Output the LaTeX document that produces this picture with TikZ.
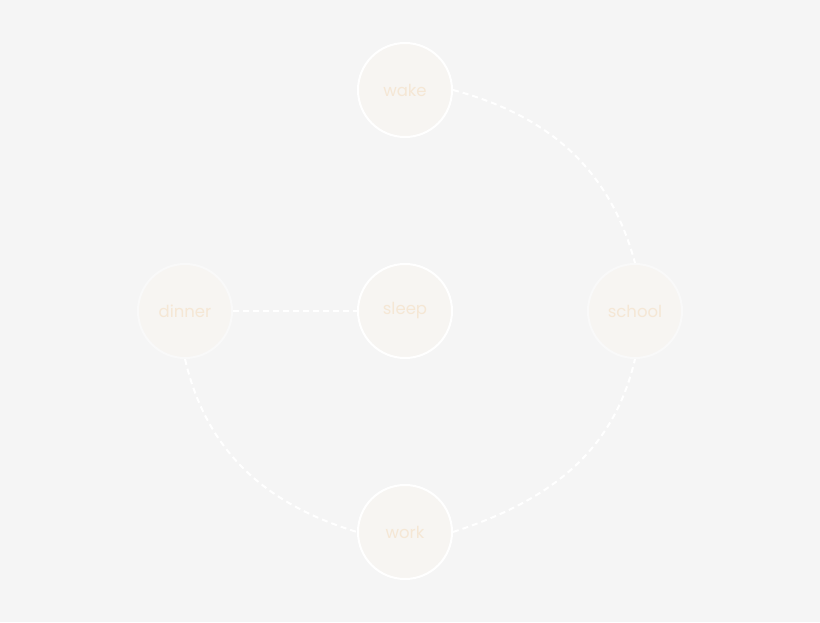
\documentclass[tikz,border=0pt]{standalone}
\usepackage{fontspec}
\setmainfont{Poppins}
\definecolor{bg}{HTML}{F5F5F5}
\definecolor{cfill}{HTML}{F7F5F2}
\definecolor{txt}{HTML}{F5E7D5}
\definecolor{faint}{HTML}{F9F9F9}
\begin{document}
\begin{tikzpicture}[x=1pt,y=1pt,
  stage/.style={circle,minimum size=94pt,inner sep=0pt,fill=cfill,draw=white,line width=2pt,text=txt,font=\fontsize{16.5}{18}\selectfont},
  fstage/.style={stage,draw=faint},
  link/.style={draw=white,line width=2pt,dash pattern=on 6pt off 4pt}]
\fill[bg] (0,0) rectangle (820,622);
\useasboundingbox (0,0) rectangle (820,622);
\node[stage] (wake) at (405,532) {wake};
\node[stage] (sleep) at (405,311) {sleep};
\node[fstage] (dinner) at (185,311) {dinner};
\node[fstage] (school) at (635,311) {school};
\node[stage] (work) at (405,90) {work};
\draw[link] (wake.east) to[out=-15,in=105] (school.north);
\draw[link] (dinner.east) -- (sleep.west);
\draw[link] (dinner.south) to[out=-77,in=163] (work.west);
\draw[link] (work.east) to[out=18,in=-103] (school.south);
\end{tikzpicture}
\end{document}
